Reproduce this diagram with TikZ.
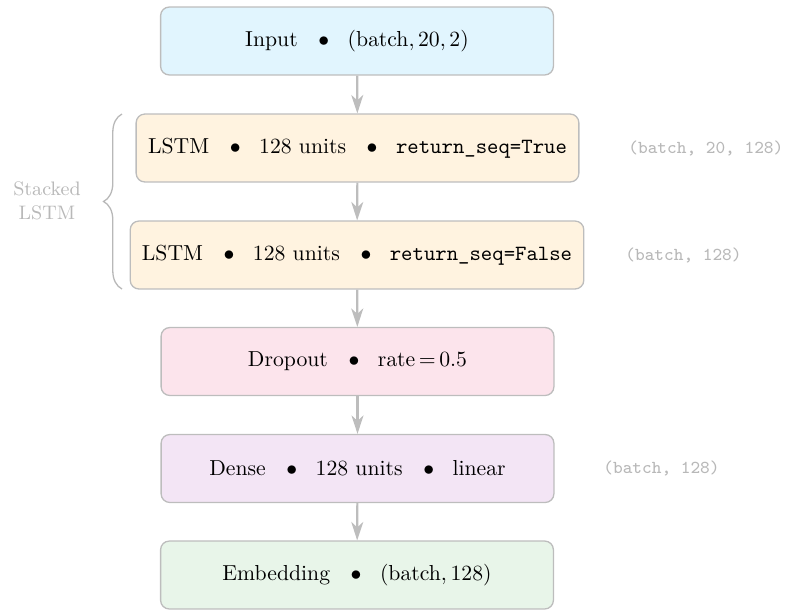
\documentclass[tikz,border=0pt]{standalone}
\usetikzlibrary{arrows.meta,decorations.pathreplacing}
\definecolor{bordergray}{HTML}{BDBDBD}
\definecolor{labelgray}{HTML}{B8B8B8}
\definecolor{inblue}{HTML}{E1F5FE}
\definecolor{lstmorange}{HTML}{FFF3E0}
\definecolor{droppink}{HTML}{FCE4EC}
\definecolor{densepurple}{HTML}{F3E5F5}
\definecolor{embgreen}{HTML}{E8F5E9}
\newcommand{\sep}{\hspace{9.5pt}$\bullet$\hspace{8.5pt}}
\tikzset{
  layer/.style={draw=bordergray, line width=0.6pt, rounded corners=4pt,
    minimum height=31.3pt, align=center, inner sep=0pt},
  flow/.style={draw=bordergray, line width=1pt,
    -{Stealth[length=8.5pt,width=5.5pt,inset=2.5pt]}},
  shapelbl/.style={text=labelgray, font=\fontsize{8.4pt}{10pt}\selectfont\ttfamily, anchor=west, inner sep=0pt}
}
\begin{document}
\begin{tikzpicture}[x=0.4608pt,y=-0.4608pt]
\useasboundingbox (0,0) rectangle (787,610);
\node[layer, fill=inblue, minimum width=181pt] (in) at (357,41)
  {Input\sep$(\mathrm{batch}, 20, 2)$};
\node[layer, fill=lstmorange, minimum width=204pt] (l1) at (357.5,148)
  {LSTM\sep128 units\sep\texttt{return\_seq=True}};
\node[layer, fill=lstmorange, minimum width=209pt] (l2) at (357,255)
  {LSTM\sep128 units\sep\texttt{return\_seq=False}};
\node[layer, fill=droppink, minimum width=181pt] (dr) at (357.5,361.5)
  {Dropout\sep$\mathrm{rate}\,{=}\,0.5$};
\node[layer, fill=densepurple, minimum width=181pt] (de) at (357.5,468.5)
  {Dense\sep128 units\sep linear};
\node[layer, fill=embgreen, minimum width=181pt] (em) at (357,575)
  {Embedding\sep$(\mathrm{batch}, 128)$};

\draw[flow] (in) -- (l1);
\draw[flow] (l1) -- (l2);
\draw[flow] (l2) -- (dr);
\draw[flow] (dr) -- (de);
\draw[flow] (de) -- (em);

\node[shapelbl] (s1) at (628,148) {(batch, 20, 128)};
\node[shapelbl] (s2) at (625,255) {(batch, 128)};
\node[shapelbl] (s3) at (603,468.5) {(batch, 128)};

\coordinate (bb) at (122,289);
\coordinate (bt) at (122,114);
\draw[labelgray, line width=0.6pt, decorate, decoration={brace, amplitude=8.5pt}] (bb) -- (bt);
\node[text=labelgray, font=\small, align=center] (stk) at (47,201) {Stacked\\LSTM};
\end{tikzpicture}
\end{document}
